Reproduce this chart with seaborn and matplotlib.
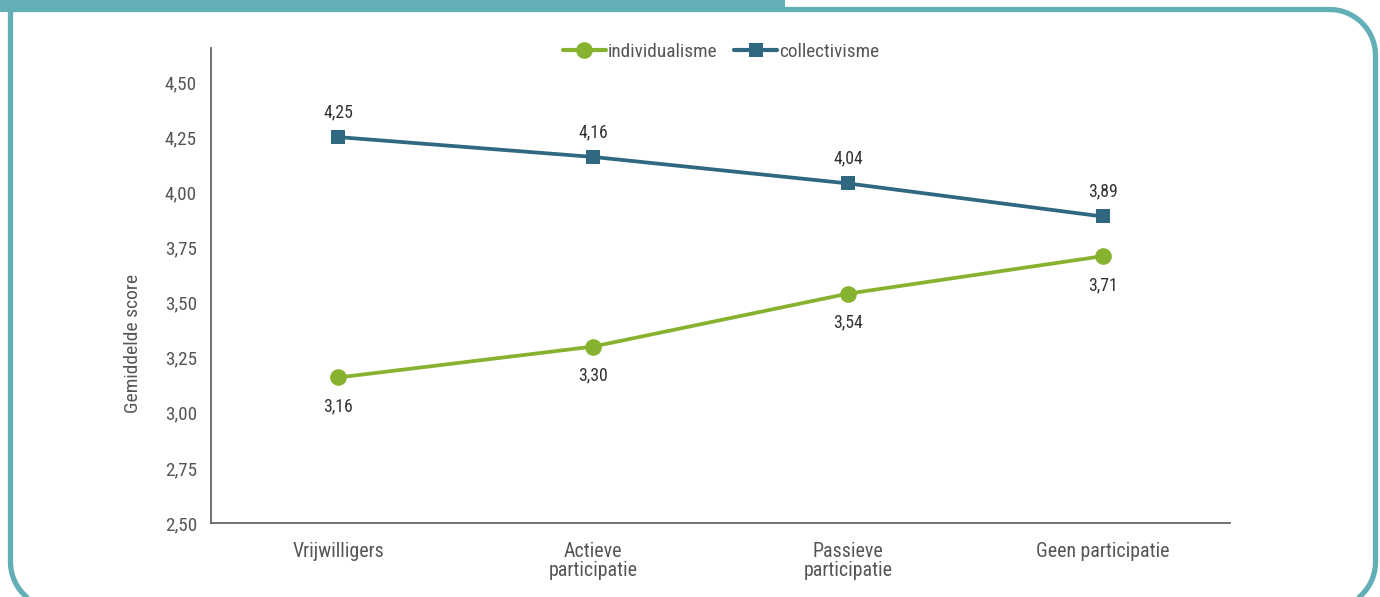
import numpy as np
import pandas as pd
import matplotlib
matplotlib.use("Agg")
import matplotlib.pyplot as plt
from matplotlib.patches import Rectangle
from matplotlib.lines import Line2D
import seaborn as sns
from matplotlib import font_manager

categories = ["Vrijwilligers", "Actieve\nparticipatie", "Passieve\nparticipatie", "Geen participatie"]
individualisme = [3.16, 3.30, 3.54, 3.71]
collectivisme = [4.25, 4.16, 4.04, 3.89]
series_names = ["individualisme", "collectivisme"]
yticks = [2.50, 2.75, 3.00, 3.25, 3.50, 3.75, 4.00, 4.25, 4.50]

GREEN = "#86B22F"
BLUE = "#2F6880"
TEAL = "#62AFB8"
TEXT = "#555555"

sns.set_theme(style="white")
names = {f.name for f in font_manager.fontManager.ttflist}
fam = [f for f in ["Roboto Condensed", "Liberation Sans Narrow", "Roboto", "DejaVu Sans"] if f in names]
plt.rcParams["font.family"] = fam

fig = plt.figure(figsize=(13.8, 5.97), dpi=100)

# frame decoration (pixel coordinates, y downward)
deco = fig.add_axes([0, 0, 1, 1], zorder=0)
deco.set_xlim(0, 1380)
deco.set_ylim(597, 0)
deco.axis("off")

def frame_path(x0, y0, x1, y1, r, n=30):
    pts = []
    def arc(cx, cy, a0, a1):
        t = np.linspace(np.radians(a0), np.radians(a1), n)
        return list(zip(cx + r*np.cos(t), cy + r*np.sin(t)))
    pts.append((x0, y0))
    pts += arc(x1 - r, y0 + r, 270, 360)
    pts += arc(x1 - r, y1 - r, 0, 90)
    pts += arc(x0 + r, y1 - r, 90, 180)
    pts.append((x0, y0))
    return np.array(pts)

pr = frame_path(10.5, 9.5, 1375.5, 608, 46)
deco.plot(pr[:, 0], pr[:, 1], color=TEAL, lw=3.8, solid_capstyle="butt")
deco.add_patch(Rectangle((0, 0), 785, 12, color=TEAL, lw=0))

ax = fig.add_axes([211/1380, 1-523/597, (1230-211)/1380, (523-48)/597], zorder=1)
ax.patch.set_alpha(0)

x = np.arange(len(categories))
df = pd.DataFrame({
    "x": np.concatenate([x, x]),
    "score": individualisme + collectivisme,
    "serie": [series_names[0]]*4 + [series_names[1]]*4,
})
sns.lineplot(data=df, x="x", y="score", hue="serie", style="serie",
             palette={series_names[0]: GREEN, series_names[1]: BLUE},
             markers={series_names[0]: "o", series_names[1]: "s"}, dashes=False,
             lw=2.7, markeredgewidth=0, ax=ax, legend=False)
for line in ax.lines:
    if line.get_marker() == "o":
        line.set_markersize(12)
    else:
        line.set_markersize(9.8)

for xi, v in zip(x, individualisme):
    ax.annotate(f"{v:.2f}".replace(".", ","), (xi, v), xytext=(0, -21), textcoords="offset points",
                ha="center", va="center", fontsize=12.8, color="#333333")
for xi, v in zip(x, collectivisme):
    ax.annotate(f"{v:.2f}".replace(".", ","), (xi, v), xytext=(0, 18), textcoords="offset points",
                ha="center", va="center", fontsize=12.8, color="#333333")

ax.set_xlim(-0.5, 3.5)
ax.set_ylim(2.5, 4.654)
ax.set_yticks(yticks)
ax.set_yticklabels([f"{t:.2f}".replace(".", ",") for t in yticks], fontsize=13.8, color=TEXT)
ax.set_xticks(x)
ax.set_xticklabels(categories, fontsize=14.3, color=TEXT, linespacing=1.0)
ax.tick_params(axis="x", length=0, pad=14)
ax.tick_params(axis="y", length=0, pad=10)
ax.set_xlabel("")
ax.set_ylabel("Gemiddelde score", fontsize=14, color=TEXT)
ax.yaxis.set_label_coords(-0.068, (523-343)/475)
for s in ["top", "right"]:
    ax.spines[s].set_visible(False)
for s in ["left", "bottom"]:
    ax.spines[s].set_color("#666666")
    ax.spines[s].set_linewidth(1.3)

handles = [Line2D([], [], color=GREEN, lw=3, marker="o", markersize=12, markeredgewidth=0),
           Line2D([], [], color=BLUE, lw=3, marker="s", markersize=9.8, markeredgewidth=0)]
fig.legend(handles, series_names, loc="center", bbox_to_anchor=(721/1380, 1-52/597), ncol=2,
           frameon=False, fontsize=13.9, labelcolor=TEXT, handlelength=2.2, handletextpad=0.1,
           columnspacing=0.9)

fig.savefig("out.png", dpi=100)
